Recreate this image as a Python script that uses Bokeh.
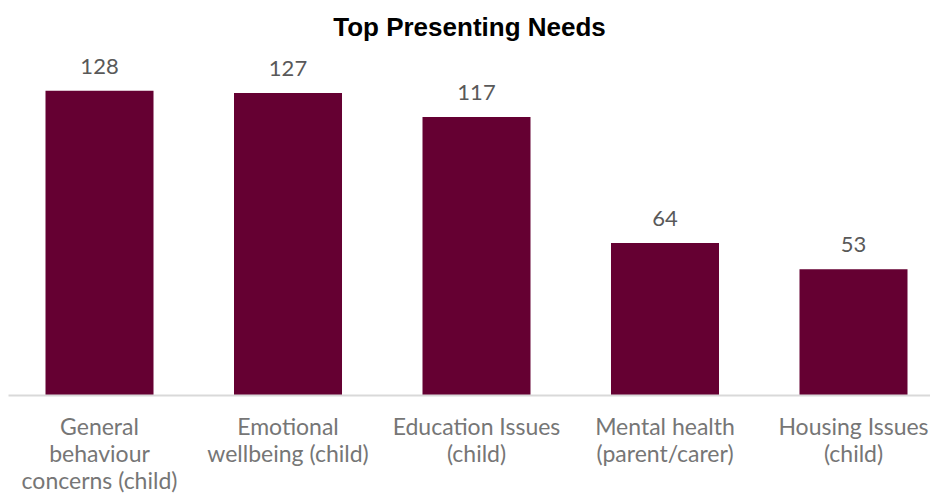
from bokeh.plotting import figure
from bokeh.models import Range1d, FixedTicker, ColumnDataSource, Title
from bokeh.core.properties import value
from bokeh.embed import file_html
from bokeh.resources import INLINE

categories = [
    "General\nbehaviour\nconcerns (child)",
    "Emotional\nwellbeing (child)",
    "Education Issues\n(child)",
    "Mental health\n(parent/carer)",
    "Housing Issues\n(child)",
]
counts = [128, 127, 117, 64, 53]
positions = list(range(len(categories)))

src = ColumnDataSource(dict(x=positions, top=counts, label=[str(c) for c in counts]))

p = figure(width=930, height=496, output_backend="svg", toolbar_location=None,
           x_range=Range1d(-0.4828, 4.4085), y_range=Range1d(0, 145.3),
           min_border_left=8, min_border_right=0, min_border_top=49, min_border_bottom=0)
p.title = Title(text="Top Presenting Needs", align="center", text_font="Liberation Sans",
                text_font_size="26px", text_font_style="bold", text_color="#000000", standoff=16)
p.outline_line_color = None
p.background_fill_color = "white"
p.border_fill_color = "white"
p.grid.visible = False
p.yaxis.visible = False

p.vbar(x="x", top="top", width=0.573, source=src, fill_color="#650032", line_color=None)
p.text(x="x", y="top", text="label", source=src, text_align="center", text_baseline="bottom",
       y_offset=-17, text_font=value("Lato"), text_font_size="22px", text_color="#595959")

ax = p.xaxis[0]
ax.ticker = FixedTicker(ticks=positions)
ax.major_label_overrides = {i: c for i, c in zip(positions, categories)}
ax.axis_line_color = "#d9d9d9"
ax.axis_line_width = 2
ax.major_tick_line_color = None
ax.minor_tick_line_color = None
ax.major_tick_out = 0
ax.major_tick_in = 0
ax.major_label_text_font = "Lato"
ax.major_label_text_font_size = "23px"
ax.major_label_text_color = "#767676"
ax.major_label_standoff = 16
ax.major_label_text_line_height = 0.97

open("out.html", "w").write(file_html(p, INLINE))
